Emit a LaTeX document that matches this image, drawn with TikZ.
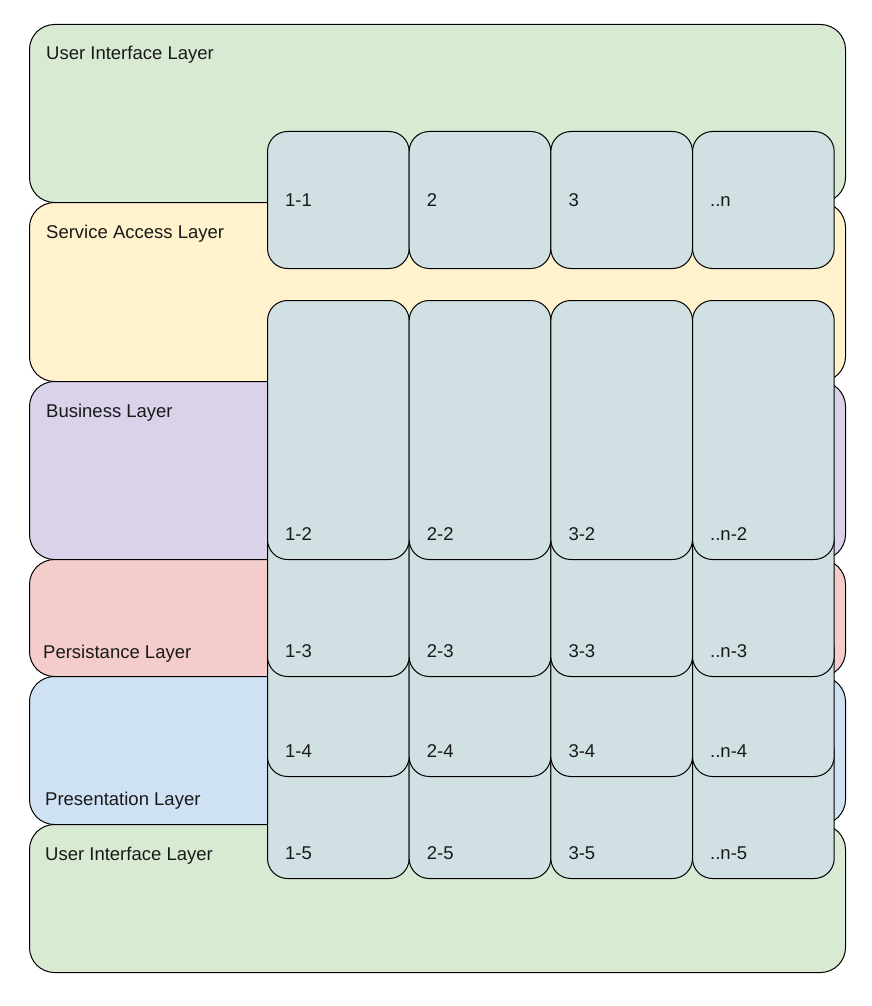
\documentclass[tikz,border=0pt]{standalone}
\usepackage{fontspec}
\setmainfont{Liberation Sans}
\definecolor{lgreen}{HTML}{D9EAD3}
\definecolor{lyellow}{HTML}{FFF2CC}
\definecolor{lpurple}{HTML}{D9D2E9}
\definecolor{lred}{HTML}{F4CCCC}
\definecolor{lblue}{HTML}{CFE2F3}
\definecolor{lcyan}{HTML}{D0E0E3}
\begin{document}
\begin{tikzpicture}[x=1pt,y=-1pt,
  layer/.style={rectangle, draw=black, line width=1pt, rounded corners=25pt, minimum width=816pt, inner sep=0pt, anchor=north west},
  cell/.style={rectangle, draw=black, line width=1pt, fill=lcyan, rounded corners=20pt, minimum width=141.67pt, inner sep=0pt, anchor=north west},
  txt/.style={font=\fontsize{18.5}{22}\selectfont, text=black!90, inner sep=0pt, anchor=base west}]
\useasboundingbox (0,0) rectangle (872,1006);
\fill[white] (0,0) rectangle (872,1006);
% layers
\node[layer, fill=lgreen,  minimum height=178pt] (L1) at (29,24) {};
\node[layer, fill=lyellow, minimum height=179pt] (L2) at (29,202) {};
\node[layer, fill=lpurple, minimum height=178pt] (L3) at (29,381) {};
\node[layer, fill=lred,    minimum height=117pt] (L4) at (29,559) {};
\node[layer, fill=lblue,   minimum height=148pt] (L5) at (29,676) {};
\node[layer, fill=lgreen,  minimum height=148pt] (L6) at (29,824) {};
% cells (lower rows first)
\foreach \r/\t/\h in {5/730/148,4/630/146,3/520/156,2/300/259,1/131/137}{
  \foreach \c in {1,2,3,4}{
    \node[cell, minimum height={\h pt}] (c\r\c) at ({267+(\c-1)*141.67},\t) {};
  }
}
% layer labels
\node[txt] (L1t) at (46,60) {User Interface Layer};
\node[txt] (L2t) at (46,238) {Service Access Layer};
\node[txt] (L3t) at (46,417) {Business Layer};
\node[txt] (L4t) at (43,658) {Persistance Layer};
\node[txt] (L5t) at (45,805) {Presentation Layer};
\node[txt] (L6t) at (45,860) {User Interface Layer};
% cell labels
\node[txt] (t11) at (285,206) {1-1};
\node[txt] (t12) at (426.67,206) {2};
\node[txt] (t13) at (568.34,206) {3};
\node[txt] (t14) at (710,206) {..n};
\node[txt] (t21) at (285,540) {1-2};
\node[txt] (t22) at (426.67,540) {2-2};
\node[txt] (t23) at (568.34,540) {3-2};
\node[txt] (t24) at (710,540) {..n-2};
\node[txt] (t31) at (285,657) {1-3};
\node[txt] (t32) at (426.67,657) {2-3};
\node[txt] (t33) at (568.34,657) {3-3};
\node[txt] (t34) at (710,657) {..n-3};
\node[txt] (t41) at (285,757) {1-4};
\node[txt] (t42) at (426.67,757) {2-4};
\node[txt] (t43) at (568.34,757) {3-4};
\node[txt] (t44) at (710,757) {..n-4};
\node[txt] (t51) at (285,859) {1-5};
\node[txt] (t52) at (426.67,859) {2-5};
\node[txt] (t53) at (568.34,859) {3-5};
\node[txt] (t54) at (710,859) {..n-5};
\end{tikzpicture}
\end{document}
